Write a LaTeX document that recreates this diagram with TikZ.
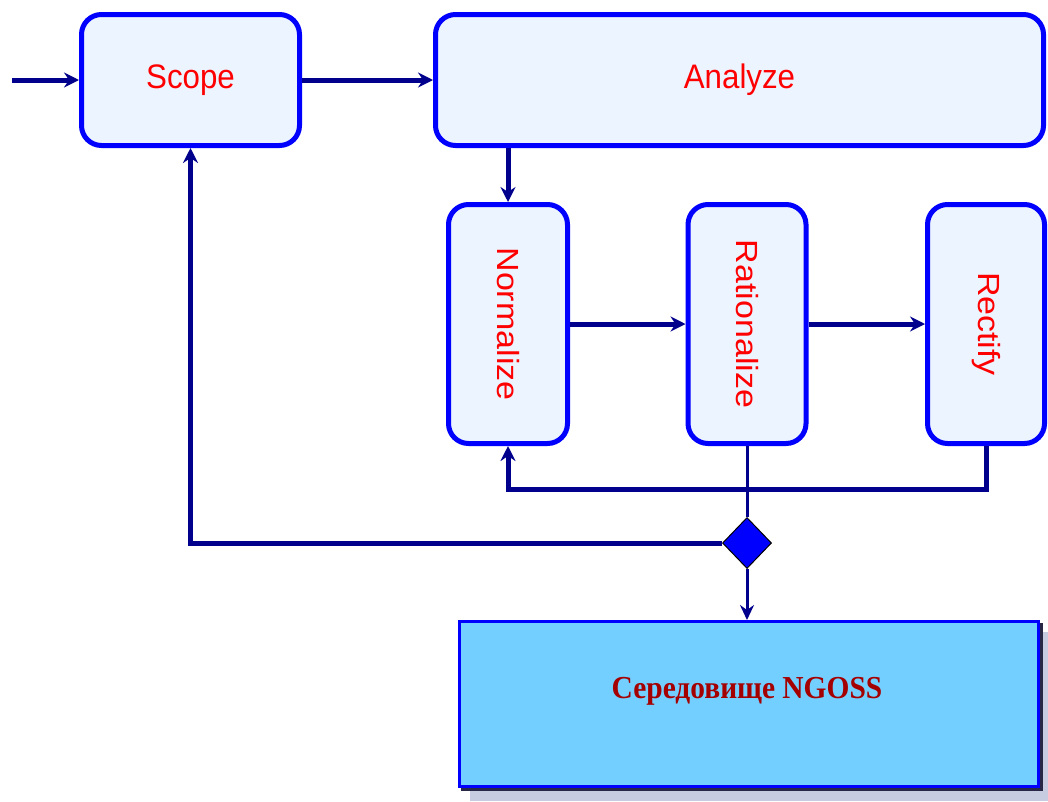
\documentclass[tikz,border=0pt]{standalone}
\usepackage{fontspec}
\setmainfont{Liberation Sans}
\newfontfamily\envfont{Liberation Serif}
\usetikzlibrary{arrows.meta,shapes.geometric}
\definecolor{boxblue}{RGB}{0,0,255}
\definecolor{boxfill}{RGB}{236,244,255}
\definecolor{navy}{RGB}{0,0,140}
\definecolor{envfill}{RGB}{115,207,255}
\definecolor{envred}{RGB}{165,0,0}
\definecolor{shadowlight}{RGB}{200,204,225}
\definecolor{shadowdark}{RGB}{40,40,70}
\begin{document}
\begin{tikzpicture}[x=1pt,y=-1pt,
  phase/.style={draw=boxblue,line width=5pt,fill=boxfill,rounded corners=20pt,
    inner sep=0pt,text=red,font=\fontsize{34}{38}\selectfont},
  flow/.style={draw=navy,line width=5pt,
    -{Stealth[length=15pt,width=15pt,inset=5pt]}},
  thinflow/.style={draw=navy,line width=3pt,
    -{Stealth[length=15pt,width=14pt,inset=5pt]}},
  link/.style={draw=navy,line width=3pt},
  gatestyle/.style={diamond,draw=black,line width=1pt,fill=boxblue,
    minimum width=49pt,minimum height=51pt,inner sep=0pt},
  envbox/.style={draw=boxblue,line width=3pt,fill=envfill,inner sep=0pt,
    minimum width=579pt,minimum height=165pt}]
\useasboundingbox (0,0) rectangle (1048,801);

% phase boxes
\node[phase,minimum width=218pt,minimum height=131pt] (scope) at (190.5,80)
  {\scalebox{0.92}[1]{Scope}};
\node[phase,minimum width=608pt,minimum height=131pt] (analyze) at (739.5,80)
  {\scalebox{0.92}[1]{Analyze}};
\node[phase,minimum width=119pt,minimum height=239pt] (normalize) at (508,324)
  {\rotatebox{-90}{\scalebox{1}[0.9]{Normalize}}};
\node[phase,minimum width=118pt,minimum height=239pt] (rationalize) at (747,324)
  {\rotatebox{-90}{\scalebox{1}[0.9]{Rationalize}}};
\node[phase,minimum width=117pt,minimum height=239pt] (rectify) at (986,324)
  {\rotatebox{-90}{\scalebox{1}[0.9]{Rectify}}};

% decision point
\node[gatestyle] (gate) at (747,543) {};

% NGOSS environment with its drop shadow
\fill[shadowlight] (470,632) rectangle (1048,801);
\fill[shadowdark] (461,623) rectangle (1043,791);
\node[envbox] (env) at (749,704) {};
\node[text=envred,font=\envfont\bfseries\fontsize{32}{36}\selectfont]
  (envlabel) at (747,691) {\scalebox{0.92}[1]{Середовище NGOSS}};

% connectors
\coordinate (start) at (12,80);
\coordinate (fbline) at (0,489);
\draw[flow] (start) -- (scope.west);
\draw[flow] (scope.east) -- (analyze.west);
\draw[flow] (analyze.south -| normalize) -- (normalize.north);
\draw[flow] (normalize.east) -- (rationalize.west);
\draw[flow] (rationalize.east) -- (rectify.west);
\draw[flow] (rectify.south) -- (rectify.south |- fbline) -| (normalize.south);
\draw[link] (rationalize.south) -- (gate.north);
\draw[flow] (gate.west) -| (scope.south);
\draw[thinflow] (gate.south) -- (gate.south |- env.north);
\end{tikzpicture}
\end{document}
